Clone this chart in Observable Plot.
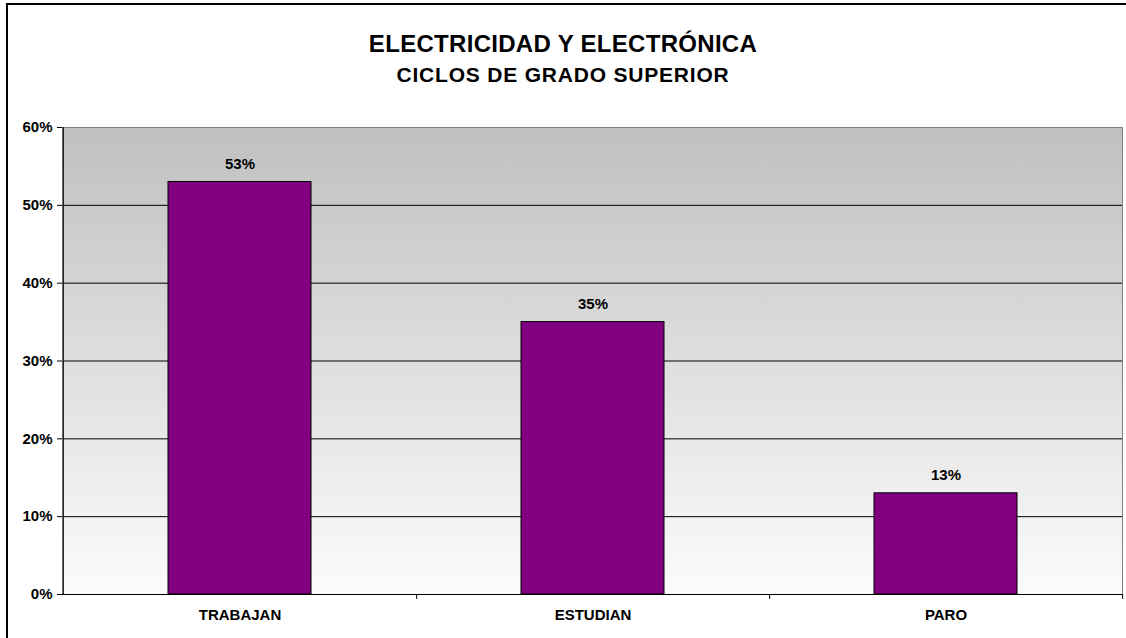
<!DOCTYPE html>
<html><head><meta charset="utf-8">
<script src="https://cdn.jsdelivr.net/npm/d3@7"></script>
<script src="https://cdn.jsdelivr.net/npm/@observablehq/plot@0.6"></script>
<style>
body{margin:0;background:#fff;font-family:"Liberation Sans",Arial,sans-serif;}
#wrap{position:relative;width:1126px;height:638px;overflow:hidden;background:#fff;}
#border{position:absolute;left:6px;top:3px;width:1200px;height:700px;border-top:2px solid #000;border-left:2px solid #000;}
.t{position:absolute;left:0;width:1126px;text-align:center;font-weight:bold;color:#000;white-space:nowrap;}
#chart{position:absolute;left:0;top:0;}
</style></head>
<body><div id="wrap"><div id="border"></div>
<div class="t" style="top:32px;font-size:24px;line-height:24px;letter-spacing:0.3px">ELECTRICIDAD Y ELECTRÓNICA</div>
<div class="t" style="top:64px;font-size:21px;line-height:21px;letter-spacing:0.8px">CICLOS DE GRADO SUPERIOR</div>
<div id="chart"></div></div>
<script>
const categories = ["TRABAJAN", "ESTUDIAN", "PARO"];
const values = [0.53, 0.35, 0.13];
const yTicks = [0, 0.1, 0.2, 0.3, 0.4, 0.5, 0.6];

const data = categories.map((c, i) => ({cat: c, value: values[i]}));
const W = 1126, H = 638, mL = 62, mR = 4, mT = 127, mB = 44;
const step = (W - mL - mR) / categories.length;
const pct = d3.format(".0%");

const plot = Plot.plot({
  width: W, height: H,
  marginLeft: mL, marginRight: mR, marginTop: mT, marginBottom: mB,
  style: {background: "transparent", fontFamily: "Liberation Sans, Arial, sans-serif", fontSize: "15px", fontWeight: "bold", color: "#000"},
  x: {domain: categories, paddingInner: 0.595, paddingOuter: 0.2975, label: null},
  y: {domain: [0, 0.6], label: null},
  marks: [
    Plot.frame({fill: "url(#bgGrad)", stroke: "none"}),
    Plot.gridY(yTicks, {stroke: "#000", strokeOpacity: 1}),
    Plot.frame({stroke: "#808080"}),
    Plot.ruleX([categories[0]], {dx: -step / 2, stroke: "#000"}),
    Plot.ruleY([0], {stroke: "#000"}),
    Plot.ruleX(categories, {x: d => d, dx: step / 2, y1: 0, y2: 0, insetBottom: -5, stroke: "#000"}),
    Plot.axisY(yTicks, {tickFormat: pct, tickSize: 5, tickPadding: 5, stroke: "#000", fontWeight: "bold", fontSize: 15}),
    Plot.axisX({tickSize: 0, tickPadding: 15, fontWeight: "bold", fontSize: 15}),
    Plot.barY(data, {x: "cat", y: "value", fill: "#800080", stroke: "#000", strokeWidth: 1}),
    Plot.text(data, {x: "cat", y: "value", text: d => pct(d.value), dy: -18, fontWeight: "bold", fontSize: 15, fill: "#000"})
  ]
});

const svg = d3.select(plot);
const grad = svg.insert("defs", ":first-child").append("linearGradient")
  .attr("id", "bgGrad").attr("x1", 0).attr("y1", 0).attr("x2", 0).attr("y2", 1);
grad.append("stop").attr("offset", 0).attr("stop-color", "#c0c0c0");
grad.append("stop").attr("offset", 1).attr("stop-color", "#fcfcfc");

document.getElementById("chart").appendChild(plot);
</script>
</body></html>
